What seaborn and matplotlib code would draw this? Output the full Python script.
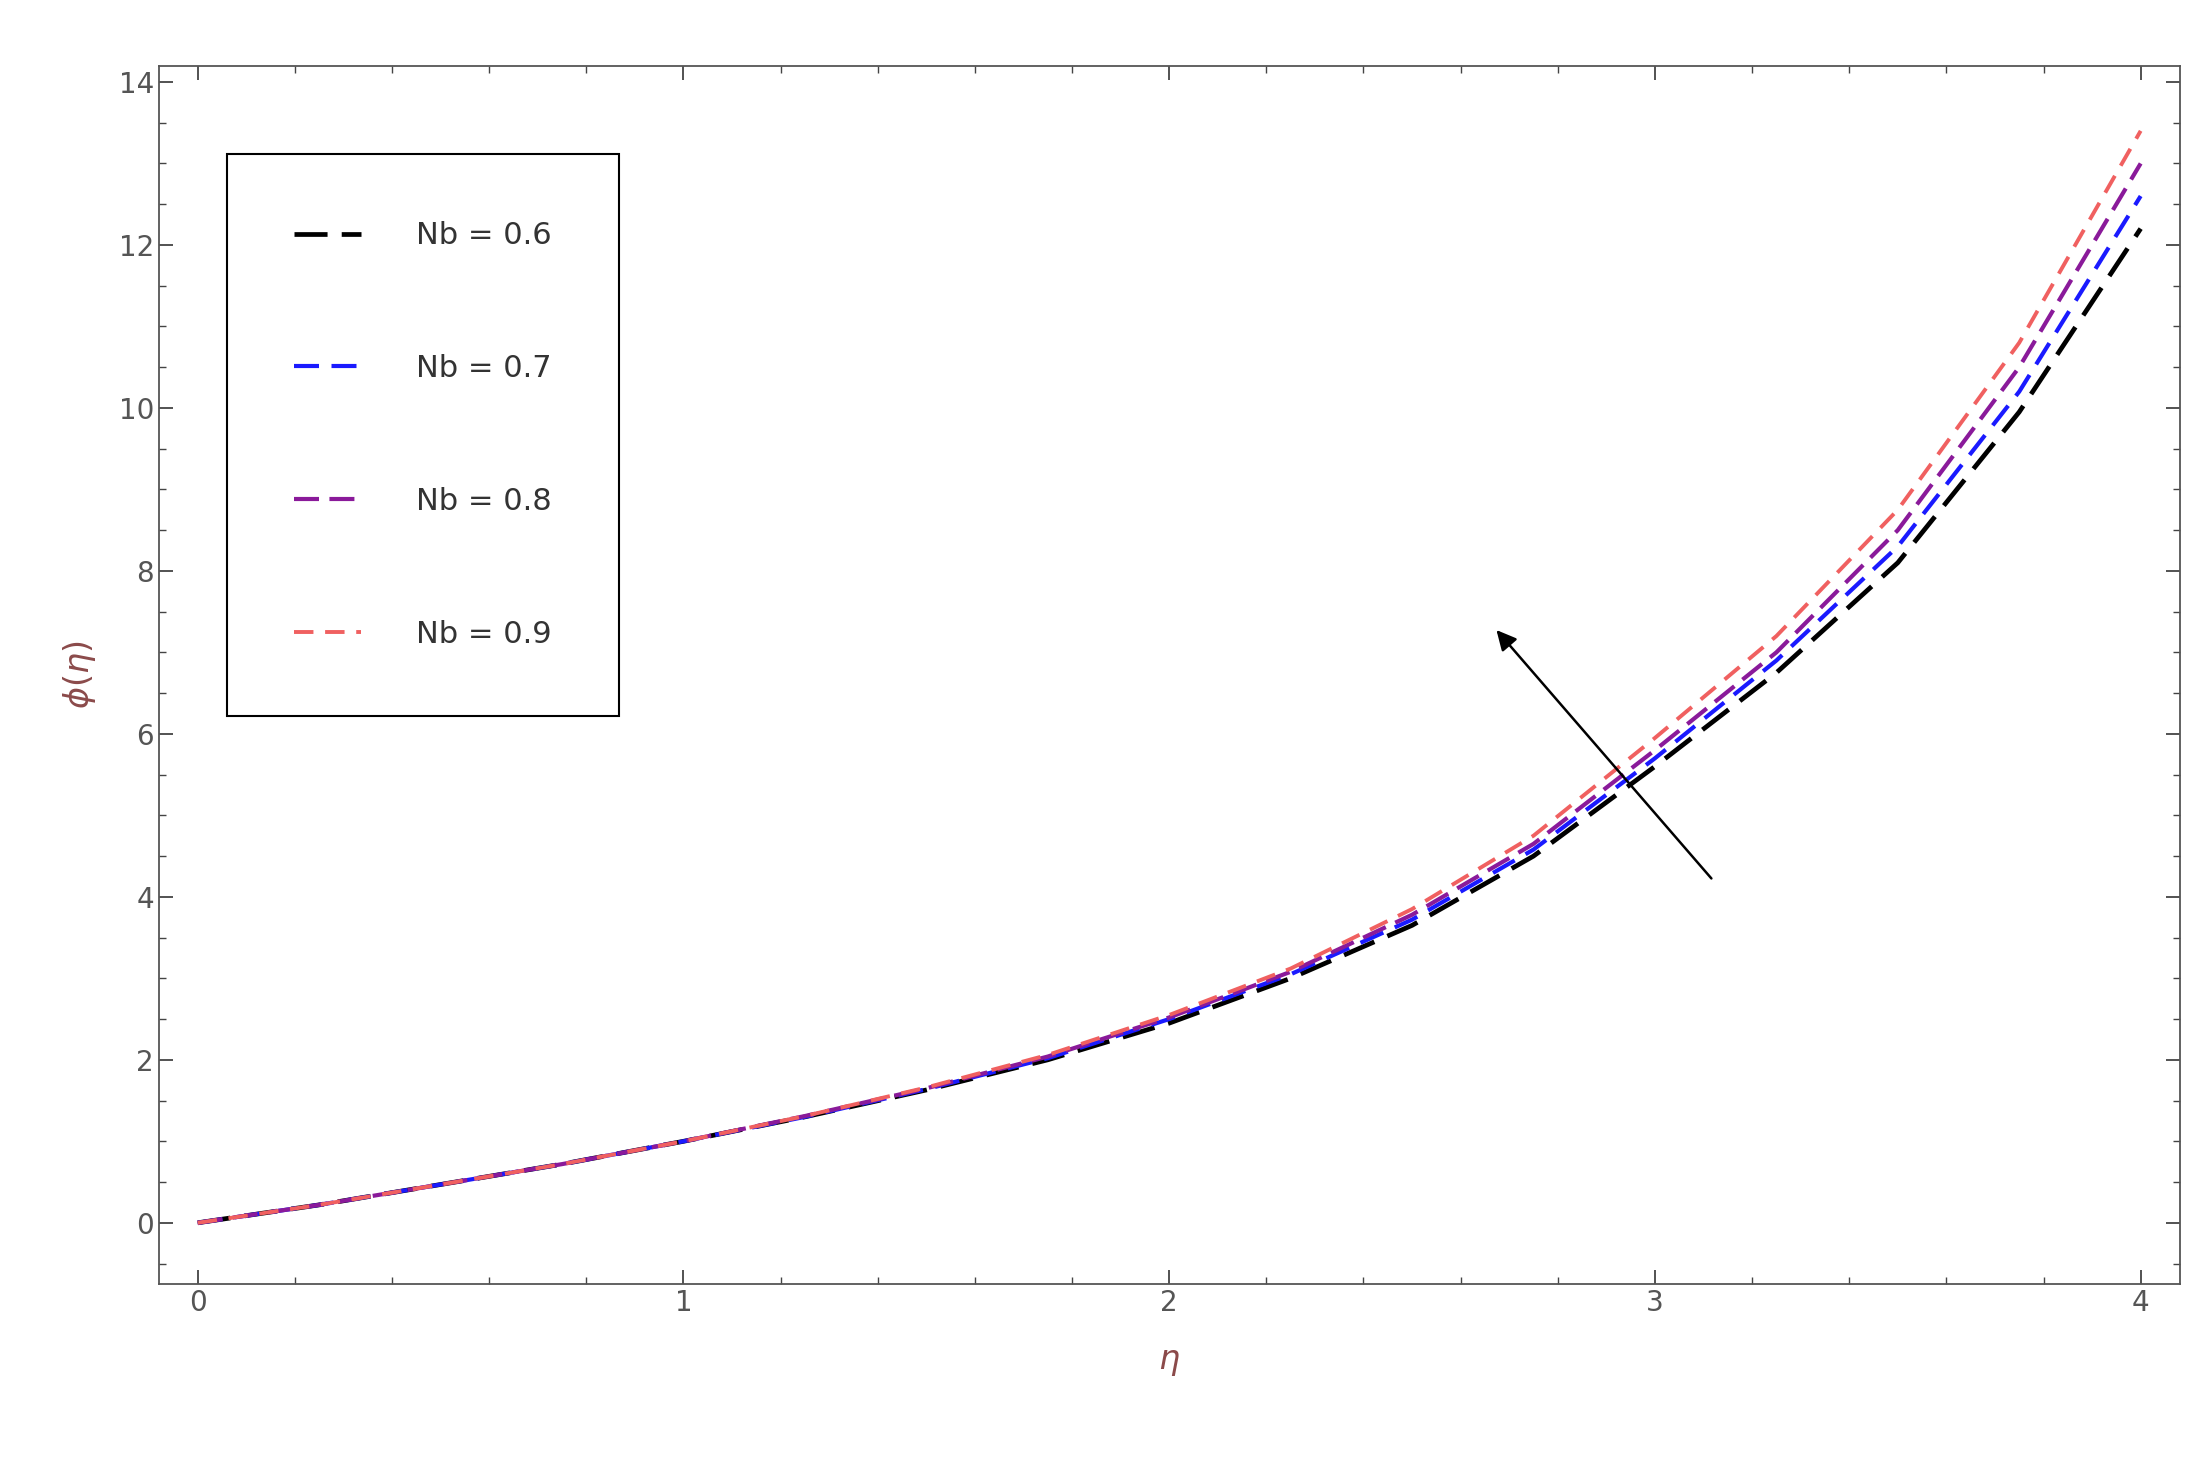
import matplotlib
matplotlib.use("Agg")
import matplotlib.pyplot as plt
import seaborn as sns
import pandas as pd
from matplotlib.ticker import MultipleLocator

eta = [0, 0.25, 0.5, 0.75, 1.0, 1.25, 1.5, 1.75, 2.0, 2.25, 2.5, 2.75, 3.0, 3.25, 3.5, 3.75, 4.0]
nb06 = [0, 0.22, 0.47, 0.72, 1.0, 1.3, 1.63, 2.0, 2.45, 3.0, 3.65, 4.5, 5.6, 6.75, 8.1, 9.95, 12.2]
nb07 = [0, 0.22, 0.47, 0.72, 1.0, 1.3, 1.64, 2.02, 2.5, 3.05, 3.72, 4.58, 5.7, 6.9, 8.3, 10.2, 12.6]
nb08 = [0, 0.22, 0.47, 0.72, 1.0, 1.31, 1.65, 2.04, 2.52, 3.08, 3.78, 4.65, 5.8, 7.0, 8.5, 10.5, 13.0]
nb09 = [0, 0.22, 0.47, 0.72, 1.0, 1.31, 1.66, 2.06, 2.55, 3.12, 3.85, 4.75, 5.95, 7.2, 8.75, 10.8, 13.4]
labels = ["Nb = 0.6", "Nb = 0.7", "Nb = 0.8", "Nb = 0.9"]
colors = ["black", "#1a1aff", "#8a1a9a", "#f06060"]
dashes = [(7, 3), (6, 3), (6, 2.5), (5, 3)]
widths = [3.4, 3.0, 3.0, 2.8]

sns.set_style("ticks")
fig, ax = plt.subplots(figsize=(22.06, 14.59), dpi=100)
fig.subplots_adjust(left=0.072, right=0.988, bottom=0.12, top=0.955)

for series, lab, c, d, w in zip([nb06, nb07, nb08, nb09], labels, colors, dashes, widths):
    df = pd.DataFrame({"eta": eta, "phi": series})
    sns.lineplot(data=df, x="eta", y="phi", ax=ax, color=c, lw=w, label=lab,
                 dashes=False, sort=True)
    ax.lines[-1].set_dashes(d)

ax.annotate("", xy=(2.67, 7.3), xytext=(3.12, 4.2),
            arrowprops=dict(arrowstyle="-|>", color="black", lw=1.8, mutation_scale=30))

ax.set_xlim(-0.08, 4.08)
ax.set_ylim(-0.75, 14.2)
ax.xaxis.set_major_locator(MultipleLocator(1))
ax.xaxis.set_minor_locator(MultipleLocator(0.2))
ax.yaxis.set_major_locator(MultipleLocator(2))
ax.yaxis.set_minor_locator(MultipleLocator(0.5))
ax.tick_params(which="both", direction="in", top=True, right=True, colors="#444444",
               labelcolor="#555555", labelsize=20)
ax.tick_params(which="major", length=10, width=1.3)
ax.tick_params(which="minor", length=5, width=1)
for s in ax.spines.values():
    s.set_color("#555555"); s.set_linewidth(1.3)
ax.set_xlabel(r"$\eta$", fontsize=24, color="#8b4a4a", labelpad=20)
ax.set_ylabel(r"$\phi(\eta)$", fontsize=24, color="#8b4a4a", labelpad=15)

leg = ax.legend(loc="upper left", bbox_to_anchor=(0.026, 0.94), fontsize=22,
                labelspacing=3.4, handlelength=2.2, borderpad=2.2, handletextpad=1.8,
                fancybox=False, framealpha=1, edgecolor="black")
leg.get_frame().set_linewidth(1.5)
leg._legend_box.align = "left"
for t in leg.get_texts():
    t.set_color("#333333")

fig.savefig("out.png", dpi=100)
